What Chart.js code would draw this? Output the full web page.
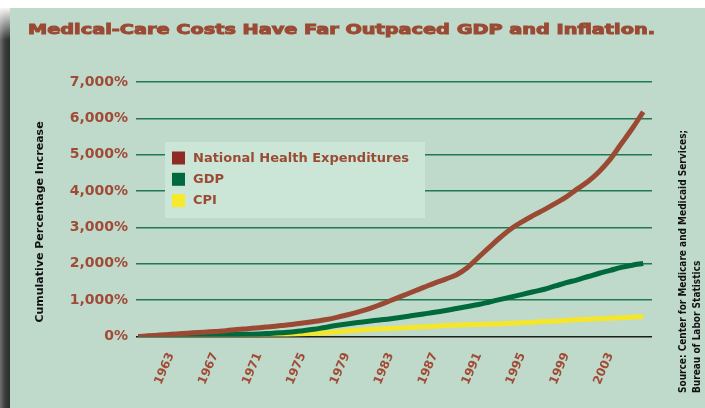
<!DOCTYPE html>
<html><head><meta charset="utf-8">
<script src="https://cdn.jsdelivr.net/npm/chart.js@4.4.1/dist/chart.umd.min.js"></script>
<style>html,body{margin:0;padding:0;background:#fff;overflow:hidden}#wrap{width:705px;height:408px;position:relative}</style>
</head><body><div id="wrap"><canvas id="c" width="705" height="408"></canvas></div>
<script>
const titleText = 'Medical-Care Costs Have Far Outpaced GDP and Inflation.';
const yAxisTitle = 'Cumulative Percentage Increase';
const sourceLines = ['Source: Center for Medicare and Medicaid Services;', 'Bureau of Labor Statistics'];
const seriesNames = ['National Health Expenditures', 'GDP', 'CPI'];
const years = [1960,1961,1962,1963,1964,1965,1966,1967,1968,1969,
  1970,1971,1972,1973,1974,1975,1976,1977,1978,1979,
  1980,1981,1982,1983,1984,1985,1986,1987,1988,1989,
  1990,1991,1992,1993,1994,1995,1996,1997,1998,1999,
  2000,2001,2002,2003,2004,2005,2006];
const nhe = [0,20,40,60,80,100,120,140,160,190,
  215,240,270,300,330,370,410,460,520,590,
  670,760,870,990,1110,1230,1350,1470,1580,1700,
  1900,2180,2460,2730,2970,3160,3330,3490,3660,3840,
  4060,4270,4540,4880,5300,5720,6180];
const gdp = [0,5,10,15,20,28,36,45,52,58,
  62,68,85,105,125,160,200,250,300,345,
  385,420,455,490,530,575,620,665,715,770,
  825,880,950,1020,1090,1160,1230,1300,1390,1480,
  1560,1650,1740,1820,1900,1960,2010];
const cpi = [0,2,3,5,6,8,11,14,18,24,
  30,36,42,50,62,75,90,105,125,150,
  175,190,205,220,235,250,268,285,300,315,
  325,332,340,350,365,380,395,410,425,445,
  460,472,485,500,515,530,550];
const xTickYears = [1963,1967,1971,1975,1979,1983,1987,1991,1995,1999,2003];
const yTickStep = 1000;

const lineColors = ['#9a4a33', '#006a3c', '#f4e62c'];
const legendColors = ['#8e2b25', '#006a3e', '#f7ea2a'];
const brown = '#9b4a33';

const bgPlugin = {
  id: 'bg',
  beforeDraw(chart) {
    const ctx = chart.ctx;
    ctx.save();
    ctx.fillStyle = '#ffffff';
    ctx.fillRect(0, 0, 705, 408);
    ctx.fillStyle = '#bfd9cb';
    ctx.fillRect(10, 8, 695, 400);
    const g = ctx.createLinearGradient(0, 0, 10, 0);
    g.addColorStop(0, '#707070');
    g.addColorStop(0.5, '#3c3c3c');
    g.addColorStop(1, '#2c2c2c');
    ctx.fillStyle = g;
    ctx.fillRect(0, 8, 10, 400);
    const g2 = ctx.createLinearGradient(0, 8, 0, 40);
    g2.addColorStop(0, 'rgba(255,255,255,0.95)');
    g2.addColorStop(1, 'rgba(255,255,255,0)');
    ctx.fillStyle = g2;
    ctx.fillRect(0, 8, 10, 32);
    ctx.restore();
  },
  afterDraw(chart) {
    const ctx = chart.ctx;
    ctx.save();
    ctx.font = 'bold 14px "DejaVu Sans"';
    const tw = ctx.measureText(titleText).width;
    ctx.translate(28, 33.5);
    ctx.scale(627 / tw, 1);
    ctx.fillStyle = brown;
    ctx.strokeStyle = brown;
    ctx.lineWidth = 1;
    ctx.textBaseline = 'alphabetic';
    ctx.fillText(titleText, 0, 0);
    ctx.strokeText(titleText, 0, 0);
    ctx.restore();

    ctx.save();
    ctx.fillStyle = '#cbe5d7';
    ctx.fillRect(165, 142, 260, 76);
    chart.data.datasets.forEach((ds, i) => {
      const y = 151.5 + i * 21.3;
      ctx.fillStyle = legendColors[i];
      ctx.fillRect(172, y, 13, 13);
      ctx.fillStyle = brown;
      ctx.font = 'bold 13px "DejaVu Sans"';
      ctx.textBaseline = 'middle';
      ctx.textAlign = 'left';
      ctx.fillText(ds.label, 193, y + 7, 224);
    });
    ctx.restore();

    ctx.save();
    ctx.translate(40, 222);
    ctx.rotate(-Math.PI / 2);
    ctx.fillStyle = '#111';
    ctx.font = 'bold 11px "DejaVu Sans"';
    ctx.textAlign = 'center';
    ctx.textBaseline = 'middle';
    ctx.fillText(yAxisTitle, 0, 0, 207);
    ctx.restore();

    ctx.save();
    ctx.fillStyle = '#111';
    ctx.font = 'bold 10px "DejaVu Sans Condensed", "DejaVu Sans"';
    ctx.textAlign = 'left';
    ctx.textBaseline = 'middle';
    ctx.translate(683, 393);
    ctx.rotate(-Math.PI / 2);
    ctx.fillText(sourceLines[0], 0, 0, 271);
    ctx.fillText(sourceLines[1], 0, 14, 133);
    ctx.restore();
  }
};

const datasets = [nhe, gdp, cpi].map((vals, i) => ({
  label: seriesNames[i],
  data: years.map((yr, k) => ({ x: yr, y: vals[k] })),
  borderColor: lineColors[i],
  backgroundColor: lineColors[i],
  borderWidth: 5,
  pointRadius: 0,
  tension: 0.4,
  fill: false
}));

new Chart(document.getElementById('c'), {
  type: 'line',
  data: { datasets },
  options: {
    responsive: false,
    animation: false,
    devicePixelRatio: 1,
    layout: { padding: { left: 0, top: 82, right: 53, bottom: 0 } },
    plugins: { legend: { display: false }, title: { display: false }, tooltip: { enabled: false } },
    scales: {
      x: {
        type: 'linear',
        min: 1959.8,
        max: 2006.8,
        grid: { display: false },
        border: { display: false },
        afterBuildTicks: (s) => { s.ticks = xTickYears.map(v => ({ value: v })); },
        afterFit: (s) => { s.height = 71.5; },
        ticks: {
          autoSkip: false,
          minRotation: 67,
          maxRotation: 67,
          padding: 6,
          color: '#a04b35',
          font: { family: 'DejaVu Sans', weight: 'bold', size: 12 },
          callback: (v) => String(v)
        }
      },
      y: {
        min: 0,
        max: 7000,
        afterFit: (s) => { s.width = 136; },
        border: { display: false },
        grid: {
          drawTicks: false,
          lineWidth: 1.5,
          color: (c) => (c.tick && c.tick.value === 0) ? '#1c1c1c' : '#1f7a52'
        },
        ticks: {
          stepSize: yTickStep,
          padding: 8,
          color: '#a04b35',
          font: { family: 'DejaVu Sans', weight: 'bold', size: 14 },
          callback: (v) => v.toLocaleString('en-US') + '%'
        }
      }
    }
  },
  plugins: [bgPlugin]
});
</script>
</body></html>
